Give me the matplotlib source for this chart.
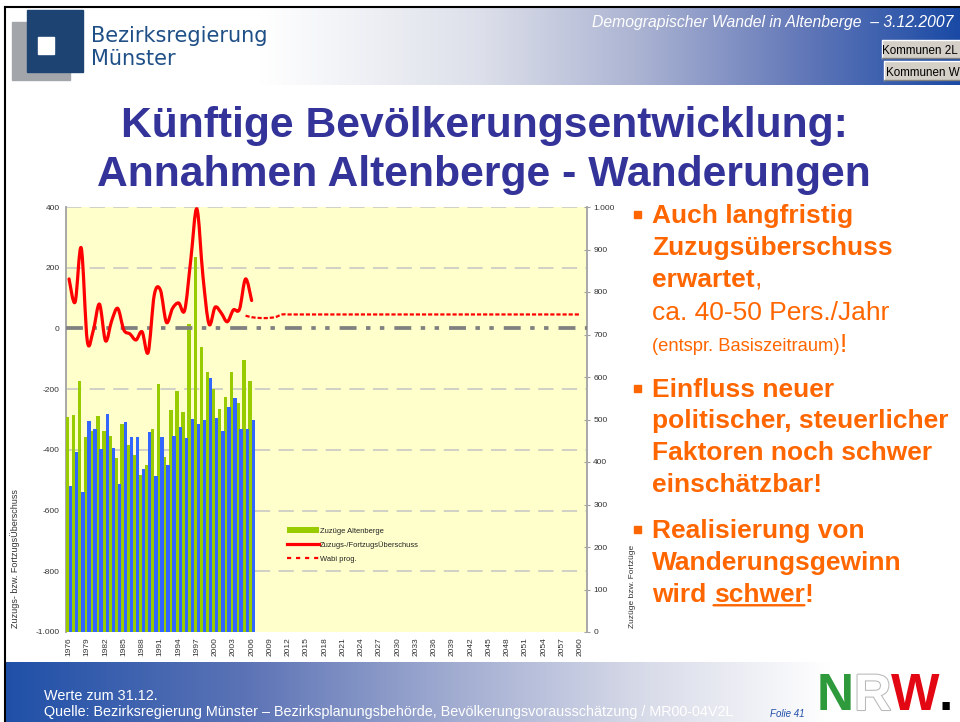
import numpy as np
import matplotlib.pyplot as plt
from matplotlib.path import Path
from matplotlib.patches import PathPatch, Rectangle
from matplotlib.lines import Line2D
from matplotlib.colors import to_rgb
from matplotlib.ticker import FuncFormatter
import matplotlib.patheffects as pe

plt.rcParams['font.family'] = ['Liberation Sans', 'DejaVu Sans']
plt.rcParams['lines.scale_dashes'] = False

# Kategorienachse 1976 - 2060
jahre = list(range(1976, 2061))

# Wanderungen Altenberge, Ist-Werte
jahre_ist = list(range(1976, 2007))
zuzuege = [505, 511, 591, 458, 473, 509, 473, 462, 410, 489,
           440, 417, 369, 393, 478, 584, 412, 522, 567, 517,
           725, 882, 671, 611, 572, 524, 552, 611, 540, 640, 591]
fortzuege = [344, 424, 329, 497, 478, 430, 513, 432, 348, 493,
             458, 458, 384, 470, 367, 458, 393, 461, 482, 457,
             501, 489, 500, 598, 504, 473, 530, 551, 477, 478, 500]
saldo = [163, 87, 265, -42, -5, 80, -41, 25, 66, -5,
         -18, -38, -11, -79, 110, 127, 20, 66, 84, 60,
         226, 394, 172, 14, 70, 51, 22, 61, 63, 163, 92]

# Wanderungsannahme der Prognose (Wabi)
jahre_prog = list(range(2005, 2061))
wabi_prog = [42, 37, 35, 34, 35, 38,
             46, 46, 46, 46, 46, 46, 46, 46, 46, 46,
             46, 46, 46, 46, 46, 46, 46, 46, 46, 46,
             46, 46, 46, 46, 46, 46, 46, 46, 46, 46,
             46, 46, 46, 46, 46, 46, 46, 46, 46, 46,
             46, 46, 46, 46, 46, 46, 46, 46, 46, 46]

orange = '#FF6600'


def glatt(xs, ys):
    # Bezier-Kurve durch die Punkte (geglaettete Linie)
    n = len(xs)
    verts = [(xs[0], ys[0])]
    codes = [Path.MOVETO]
    for i in range(n - 1):
        a = max(i - 1, 0)
        d = min(i + 2, n - 1)
        verts.append((xs[i] + (xs[i + 1] - xs[a]) / 6, ys[i] + (ys[i + 1] - ys[a]) / 6))
        verts.append((xs[i + 1] - (xs[d] - xs[i]) / 6, ys[i + 1] - (ys[d] - ys[i]) / 6))
        verts.append((xs[i + 1], ys[i + 1]))
        codes += [Path.CURVE4] * 3
    return Path(verts, codes)


fig = plt.figure(figsize=(9.6, 7.22), dpi=100)

# Folienhintergrund in Pixelkoordinaten
bg = fig.add_axes([0, 0, 1, 1], zorder=-1)
bg.axis('off')


def verlauf(x0, x1, y0, y1, stops):
    xs = np.linspace(x0, x1, 500)
    px = [s[0] for s in stops]
    cols = np.array([to_rgb(s[1]) for s in stops])
    img = np.stack([np.interp(xs, px, cols[:, k]) for k in range(3)], axis=-1)[None]
    bg.imshow(img, extent=(x0, x1, y1, y0), aspect='auto', interpolation='bilinear')


verlauf(5, 960, 8, 85, [(5, '#ffffff'), (260, '#ffffff'), (480, '#dde0ea'),
                        (640, '#abb3d2'), (800, '#6479b9'), (960, '#1a4aa5')])
verlauf(5, 960, 662, 722, [(5, '#1f50a8'), (250, '#5d74b6'), (450, '#a0abd0'),
                           (650, '#d9dce9'), (830, '#ffffff'), (960, '#ffffff')])
bg.set_xlim(0, 960)
bg.set_ylim(722, 0)

bg.plot([4.5, 960], [6.5, 6.5], color='black', lw=1.5)
bg.plot([4.5, 4.5], [6.5, 722], color='black', lw=1.5)

# Logo Bezirksregierung
bg.add_patch(Rectangle((12, 22), 58, 58, color='#a2a5aa'))
bg.add_patch(Rectangle((27, 10), 56, 62, color='#1d4373'))
bg.add_patch(Rectangle((38, 37), 16, 17, color='white'))
bg.text(91, 42.5, 'Bezirksregierung', family='DejaVu Sans', fontsize=15, color='#1f4f87', va='baseline')
bg.text(91, 65, 'Münster', family='DejaVu Sans', fontsize=15, color='#1f4f87', va='baseline')

bg.text(953, 27, 'Demograpischer Wandel in Altenberge  – 3.12.2007', ha='right', va='baseline',
        style='italic', color='white', fontsize=11.3)


def knopf(x, y, w, h, s, tx):
    bg.add_patch(Rectangle((x, y), w, h, facecolor='#d4d0c8', edgecolor='none'))
    bg.plot([x, x, x + w], [y + h, y, y], color='white', lw=1)
    bg.plot([x, x + w, x + w], [y + h, y + h, y], color='#808080', lw=1)
    bg.text(tx, y + h - 3.5, s, fontsize=8.4, color='black', va='baseline')


knopf(882, 40, 80, 18, 'Kommunen 2L', 882)
knopf(884, 61, 78, 19, 'Kommunen W', 886)

# Titel
bg.text(484, 137, 'Künftige Bevölkerungsentwicklung:', ha='center', va='baseline',
        fontsize=30.7, weight='bold', color='#333399')
bg.text(484, 186, 'Annahmen Altenberge - Wanderungen', ha='center', va='baseline',
        fontsize=30.7, weight='bold', color='#333399')


# Stichpunkte rechts
def zeile(y, s, size=19, bold=True):
    return bg.text(652, y, s, color=orange, fontsize=size, va='baseline', ha='left',
                   weight='bold' if bold else 'normal')


def dahinter(t, s, dx=0, dy=0, size=19, bold=True, **kw):
    kw.setdefault('color', orange)
    return bg.annotate(s, xy=(1, 0), xycoords=t, xytext=(dx, dy), textcoords='offset pixels',
                       va='bottom', ha='left', fontsize=size,
                       weight='bold' if bold else 'normal', **kw)


for yb in (211, 385, 526):
    bg.add_patch(Rectangle((634, yb), 6.5, 6.5, color=orange))

zeile(223, 'Auch langfristig')
zeile(255, 'Zuzugsüberschuss')
t = zeile(286.7, 'erwartet')
dahinter(t, ',', bold=False)
zeile(320, 'ca. 40-50 Pers./Jahr', bold=False)
t = zeile(351, '(entspr. Basiszeitraum)', size=13.2, bold=False)
dahinter(t, '!', dy=-1.7, bold=False)
zeile(396.7, 'Einfluss neuer')
zeile(428.3, 'politischer, steuerlicher')
zeile(460, 'Faktoren noch schwer')
zeile(491.7, 'einschätzbar!')
zeile(538.3, 'Realisierung von')
zeile(570, 'Wanderungsgewinn')
t = zeile(601.7, 'wird')
t2 = dahinter(t, 'schwer', dx=7.3)
dahinter(t2, '!')
bg.annotate('', xy=(0, 0.06), xycoords=t2, xytext=(1, 0.06), textcoords=t2,
            arrowprops=dict(arrowstyle='-', color=orange, lw=1.7, shrinkA=0, shrinkB=0))

# Fusszeile
bg.text(44, 700, 'Werte zum 31.12.', color='white', fontsize=10.4, va='baseline')
bg.text(44, 716, 'Quelle: Bezirksregierung Münster – Bezirksplanungsbehörde, '
        'Bevölkerungsvorausschätzung / MR00-04V2L', color='white', fontsize=10.4, va='baseline')
bg.text(770, 717, 'Folie 41', color='#1f4fa8', fontsize=7, style='italic', va='baseline')

# NRW-Logo
n = bg.text(817, 710, 'N', color='#2e9a3c', fontsize=37, weight='bold', va='baseline')
r = dahinter(n, 'R', dx=0, size=37, color='white',
             path_effects=[pe.withStroke(linewidth=1.5, foreground='#b8b8b8')])
w = dahinter(r, 'W', dx=0, size=37, color='#e30613')
dahinter(w, '.', dx=-1, size=37, color='black')

# Diagramm
ax = fig.add_axes([66 / 960, 90 / 722, 521 / 960, 425 / 722])
ax.set_facecolor('#FFFFCC')
ax.set_xlim(-0.5, 85.1)
ax.set_ylim(-1000, 400)
axr = ax.twinx()
axr.set_ylim(0, 1000)
axt = fig.add_axes(ax.get_position(), sharex=ax)
axt.set_ylim(-1000, 400)
axt.axis('off')
axt.patch.set_visible(False)

x_ist = np.array([jahre.index(j) for j in jahre_ist])
x_prog = np.array([jahre.index(j) for j in jahre_prog])

balken = axr.bar(x_ist - 0.27, zuzuege, width=0.56, color='#99CC00', label='Zuzüge Altenberge')
axr.bar(x_ist + 0.27, fortzuege, width=0.55, color='#3366FF')

axt.axhline(0, color='#808080', lw=2.7, ls=(0, (12.2, 6.8, 3.2, 6.8, 3.2, 7.2)),
            dash_capstyle='butt', zorder=1)
axt.add_patch(PathPatch(glatt(x_ist, saldo), fill=False, edgecolor='#FF0000', lw=2.3,
                        joinstyle='round', capstyle='round', zorder=3))
axt.add_patch(PathPatch(glatt(x_prog, wabi_prog), fill=False, edgecolor='#FF0000', lw=1.6,
                        ls=(0, (3, 1.4)), capstyle='butt', zorder=2))

deutsch = FuncFormatter(lambda v, p: f'{v:,.0f}'.replace(',', '.'))
ax.set_yticks(np.arange(-1000, 401, 200))
ax.yaxis.set_major_formatter(deutsch)
axr.set_yticks(np.arange(0, 1001, 100))
axr.yaxis.set_major_formatter(deutsch)
ax.yaxis.grid(True, color='#c4c4c4', lw=1.1, ls=(0, (11, 6)))
ax.set_axisbelow(True)
gl = ax.get_ygridlines()
gl[0].set_visible(False)
gl[5].set_visible(False)

ax.set_xticks(range(0, 85, 3))
ax.set_xticklabels([str(j) for j in jahre[::3]])
ax.tick_params(axis='x', length=0, pad=3.6, labelsize=6, rotation=90, labelcolor='#333333')
ax.tick_params(axis='y', length=0, pad=4.5, labelsize=6, labelcolor='#333333')
axr.tick_params(axis='y', direction='inout', length=4.5, width=0.8, color='#a0a0a0', pad=2.2,
                labelsize=6, labelcolor='#333333')

for s in ('top', 'bottom', 'right'):
    ax.spines[s].set_visible(False)
for s in ('top', 'bottom', 'left'):
    axr.spines[s].set_visible(False)
ax.spines['left'].set_color('#a8a8a8')
ax.spines['left'].set_linewidth(1.4)
axr.spines['right'].set_color('#a8a8a8')
axr.spines['right'].set_linewidth(1.4)

bg.text(15, 559, 'Zuzugs- bzw. FortzugsÜberschuss', rotation=90, ha='center', va='center',
        fontsize=6.5, color='#333333')
bg.text(632, 586, 'Zuzüge bzw. Fortzüge', rotation=90, ha='center', va='center',
        fontsize=6, color='#333333')

handles = [balken,
           Line2D([], [], color='#FF0000', lw=2.3),
           Line2D([], [], color='#FF0000', lw=1.6, ls=(0, (3, 3.5)))]
labels = ['Zuzüge Altenberge', 'Zuzugs-/FortzugsÜberschuss', 'Wabi prog.']
axt.legend(handles, labels, loc='upper left', bbox_to_anchor=(0.424, 0.246), frameon=False,
           fontsize=5.4, borderpad=0, borderaxespad=0, handlelength=4.27, handletextpad=0.15,
           labelspacing=0.85, labelcolor='#222222')

fig.savefig('out.png', dpi=100)
